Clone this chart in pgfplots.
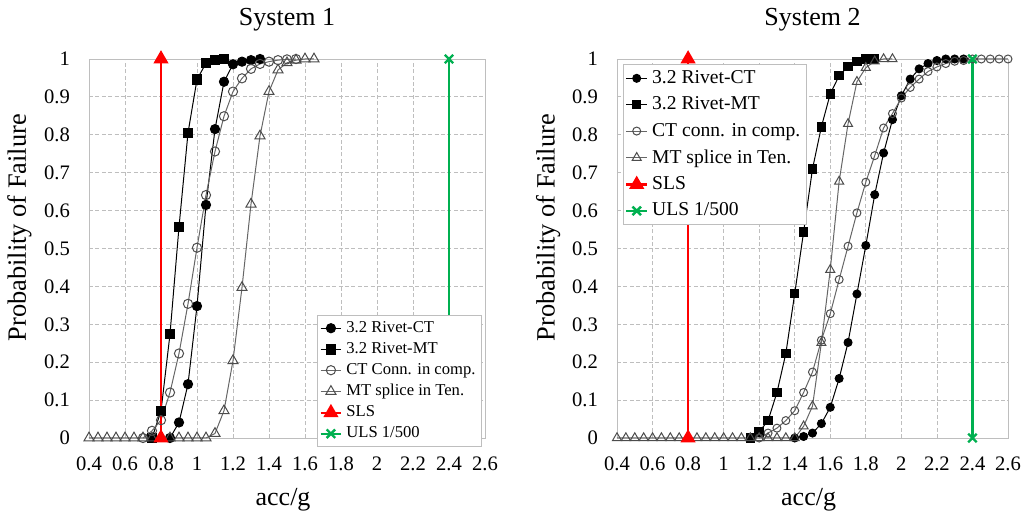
\documentclass[border=0pt]{standalone}
\usepackage{fontspec}
\setmainfont{Liberation Serif}
\usepackage{pgfplots}
\pgfplotsset{compat=1.18}
\definecolor{slsred}{RGB}{255,0,0}
\definecolor{ulsgreen}{RGB}{0,176,80}
\definecolor{boxgray}{RGB}{190,190,190}

% one pixel of the reference = 0.5pt
\pgfplotsset{
  pf/.style={
    scale only axis, height=189.5pt,
    xmin=0.4, xmax=2.6, ymin=0, ymax=1,
    xtick={0.4,0.6,0.8,1,1.2,1.4,1.6,1.8,2,2.2,2.4,2.6},
    ytick={0,0.1,0.2,0.3,0.4,0.5,0.6,0.7,0.8,0.9,1},
    /pgf/number format/assume math mode=true,
    tick label style={font=\fontsize{10.3}{12}\selectfont},
    xticklabel style={yshift=-6pt},
    yticklabel style={xshift=-6pt},
    major tick length=0pt,
    grid=major,
    grid style={boxgray, dash pattern=on 2pt off 1.2pt, line width=0.4pt},
    axis line style={boxgray},
    clip=false,
    title style={font=\fontsize{13}{15}\selectfont, anchor=center, at={(axis description cs:0.5,1)}, yshift=13.5pt},
    xlabel={acc/g},
    xlabel style={font=\fontsize{13}{15}\selectfont, anchor=center, at={(axis description cs:0.49,-0.164)}},
    ylabel={Probability of Failure},
    ylabel style={font=\fontsize{13.2}{15}\selectfont, anchor=center, at={(axis description cs:-0.176,0.555)}},
    legend cell align=left,
    legend image code/.code={\draw[mark repeat=2,mark phase=2] plot coordinates {(0cm,0cm) (0.18cm,0cm) (0.36cm,0cm)};},
    legend style={draw=boxgray, fill=white, inner sep=1pt},
  },
  sfill/.style={black, line width=0.5pt, mark=*, mark options={solid, fill=black}},
  ssq/.style={black, line width=0.5pt, mark=square*, mark options={solid, fill=black}},
  sopen/.style={black!60, line width=0.5pt, mark=o, mark options={solid, draw=black!70, fill=white}},
  stri/.style={black!60, line width=0.5pt, mark=triangle, mark options={solid, draw=black!70, fill=white}},
  ssls/.style={slsred, line width=1.2pt, mark=triangle*, mark size=3.2pt, mark options={fill=slsred}},
  suls/.style={ulsgreen, line width=1.2pt, mark=x, mark size=3pt, mark options={line width=1.2pt}},
}

\begin{document}
\begin{tikzpicture}
\useasboundingbox (0,0) rectangle (512.5pt,260pt);

% ---------------- System 1 ----------------
\begin{axis}[pf, width=198pt, at={(44.5pt,41pt)}, anchor=south west,
  title={System 1},
  legend style={font=\fontsize{8.3}{9.5}\selectfont, row sep=-0.5pt, at={(axis description cs:0.576,0.325)}, anchor=north west}]
\addplot[sfill, mark size=2.3pt] coordinates {
  (0.85,0) (0.9,0.041) (0.95,0.142) (1.0,0.348) (1.05,0.615) (1.1,0.815)
  (1.15,0.94) (1.2,0.986) (1.25,0.993) (1.3,0.997) (1.35,1.0)};
\addplot[ssq, mark size=2.4pt] coordinates {
  (0.75,0) (0.8,0.071) (0.85,0.274) (0.9,0.557) (0.95,0.805) (1.0,0.946)
  (1.05,0.989) (1.1,0.997) (1.15,1.0)};
\addplot[sopen, mark size=2.3pt] coordinates {
  (0.7,0) (0.75,0.019) (0.8,0.047) (0.85,0.12) (0.9,0.223) (0.95,0.354)
  (1.0,0.502) (1.05,0.641) (1.1,0.756) (1.15,0.849) (1.2,0.914) (1.25,0.949)
  (1.3,0.974) (1.35,0.987) (1.4,0.993) (1.45,0.997) (1.5,0.999) (1.55,1.0)};
\addplot[stri, mark size=2.9pt] coordinates {
  (0.4,0) (0.45,0) (0.5,0) (0.55,0) (0.6,0) (0.65,0) (0.7,0) (0.75,0) (0.8,0)
  (0.85,0) (0.9,0) (0.95,0) (1.0,0) (1.05,0) (1.1,0.012) (1.15,0.072)
  (1.2,0.204) (1.25,0.397) (1.3,0.617) (1.35,0.797) (1.4,0.914) (1.45,0.971)
  (1.5,0.99) (1.55,0.997) (1.6,1.0) (1.65,1.0)};
\addplot[ssls] coordinates {(0.8,0) (0.8,1)};
\addplot[suls] coordinates {(2.4,0) (2.4,1)};
\legend{3.2 Rivet-CT, 3.2 Rivet-MT, CT Conn. in comp., MT splice in Ten., SLS, ULS 1/500}
\end{axis}

% ---------------- System 2 ----------------
\begin{axis}[pf, width=195.5pt, at={(308.5pt,41pt)}, anchor=south west,
  title={System 2},
  legend style={font=\fontsize{9.8}{12}\selectfont, row sep=1.2pt, at={(axis description cs:0.015,0.987)}, anchor=north west}]
\addplot[sfill, mark size=2pt] coordinates {
  (1.4,0) (1.45,0.004) (1.5,0.013) (1.55,0.038) (1.6,0.081) (1.65,0.157)
  (1.7,0.252) (1.75,0.38) (1.8,0.508) (1.85,0.642) (1.9,0.752) (1.95,0.84)
  (2.0,0.903) (2.05,0.947) (2.1,0.974) (2.15,0.988) (2.2,0.996) (2.25,1.0)
  (2.3,1.0) (2.35,1.0)};
\addplot[ssq, mark size=2.1pt] coordinates {
  (1.15,0) (1.2,0.016) (1.25,0.046) (1.3,0.12) (1.35,0.223) (1.4,0.381)
  (1.45,0.544) (1.5,0.71) (1.55,0.821) (1.6,0.908) (1.65,0.956) (1.7,0.98)
  (1.75,0.994) (1.8,1.0) (1.85,1.0)};
\addplot[sopen, mark size=2pt] coordinates {
  (1.2,0) (1.25,0.013) (1.3,0.026) (1.35,0.046) (1.4,0.072) (1.45,0.12)
  (1.5,0.174) (1.55,0.258) (1.6,0.328) (1.65,0.418) (1.7,0.506) (1.75,0.594)
  (1.8,0.675) (1.85,0.745) (1.9,0.818) (1.95,0.856) (2.0,0.897) (2.05,0.925)
  (2.1,0.947) (2.15,0.967) (2.2,0.979) (2.25,0.988) (2.3,0.994) (2.35,0.996)
  (2.4,1.0) (2.45,1.0) (2.5,1.0) (2.55,1.0) (2.6,1.0)};
\addplot[stri, mark size=2.6pt] coordinates {
  (0.4,0) (0.45,0) (0.5,0) (0.55,0) (0.6,0) (0.65,0) (0.7,0) (0.75,0) (0.8,0)
  (0.85,0) (0.9,0) (0.95,0) (1.0,0) (1.05,0) (1.1,0) (1.15,0) (1.2,0) (1.25,0)
  (1.3,0) (1.35,0) (1.4,0) (1.45,0.031) (1.5,0.084) (1.55,0.251) (1.6,0.444)
  (1.65,0.677) (1.7,0.829) (1.75,0.94) (1.8,0.977) (1.85,0.994) (1.9,1.0) (1.95,1.0)};
\addplot[ssls] coordinates {(0.8,0) (0.8,1)};
\addplot[suls] coordinates {(2.4,0) (2.4,1)};
\legend{3.2 Rivet-CT, 3.2 Rivet-MT, CT conn. in comp., MT splice in Ten., SLS, ULS 1/500}
\end{axis}
\end{tikzpicture}
\end{document}
